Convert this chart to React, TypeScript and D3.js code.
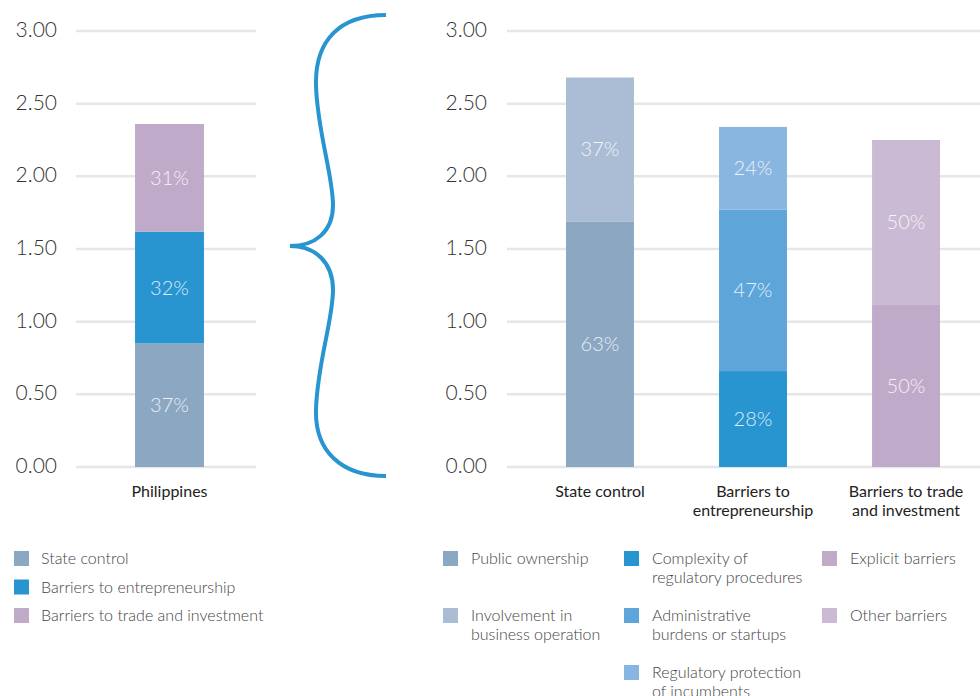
import {cumsum, scaleBand, scaleLinear} from "d3";

const FONT = "Lato, 'Open Sans', sans-serif";

const yTicks = [0, 0.5, 1, 1.5, 2, 2.5, 3];

// overview (Philippines)
const overviewCountry = "Philippines";
const overviewGroups = ["State control", "Barriers to entrepreneurship", "Barriers to trade and investment"];
const overviewValues = [0.85, 0.77, 0.74];
const overviewShares = ["37%", "32%", "31%"];
const overviewColors = ["#8ba7c2", "#2895d1", "#bfaac9"];

// detail by group
const detailCategories = ["State control", "Barriers to entrepreneurship", "Barriers to trade and investment"];
const detailAxisLines = [["State control"], ["Barriers to", "entrepreneurship"], ["Barriers to trade", "and investment"]];
const stateControlValues = [1.69, 0.99];
const stateControlShares = ["63%", "37%"];
const stateControlColors = ["#8ba7c2", "#abbdd4"];
const entrepreneurshipValues = [0.66, 1.11, 0.57];
const entrepreneurshipShares = ["28%", "47%", "24%"];
const entrepreneurshipColors = ["#2895d1", "#5ea6d9", "#89b6e0"];
const tradeValues = [1.12, 1.13];
const tradeShares = ["50%", "50%"];
const tradeColors = ["#bfaac9", "#cbbad3"];

const stateControlLegend = [["Public ownership"], ["Involvement in", "business operation"]];
const entrepreneurshipLegend = [
  ["Complexity of", "regulatory procedures"],
  ["Administrative", "burdens or startups"],
  ["Regulatory protection", "of incumbents"]
];
const tradeLegend = [["Explicit barriers"], ["Other barriers"]];

const WIDTH = 980;
const HEIGHT = 696;

type Segment = {value: number; share: string; color: string};

export default function App() {
  const y = scaleLinear().domain([0, 3]).range([467, 31]);

  const xLeft = scaleBand<string>().domain([overviewCountry]).range([80, 259]).padding(0.444);
  const xRight = scaleBand<string>()
    .domain(detailCategories)
    .range([489.5, 1016.5])
    .paddingInner(0.556)
    .paddingOuter(0.5);

  const overviewSegments: Segment[] = overviewValues.map((value, i) => ({
    value,
    share: overviewShares[i],
    color: overviewColors[i]
  }));

  const detailSegments: Segment[][] = [
    stateControlValues.map((value, i) => ({value, share: stateControlShares[i], color: stateControlColors[i]})),
    entrepreneurshipValues.map((value, i) => ({value, share: entrepreneurshipShares[i], color: entrepreneurshipColors[i]})),
    tradeValues.map((value, i) => ({value, share: tradeShares[i], color: tradeColors[i]}))
  ];

  const legendColumns = [
    {labels: stateControlLegend, colors: stateControlColors, x: 443},
    {labels: entrepreneurshipLegend, colors: entrepreneurshipColors, x: 624},
    {labels: tradeLegend, colors: tradeColors, x: 822}
  ];

  return (
    <div style={{position: "absolute", left: 0, top: 0}}>
      <svg width={WIDTH} height={HEIGHT} viewBox={`0 0 ${WIDTH} ${HEIGHT}`} style={{display: "block", fontFamily: FONT}}>
        <rect width={WIDTH} height={HEIGHT} fill="#ffffff" />

        {/* left axis */}
        {yTicks.map((tick) => (
          <g key={`l-${tick}`}>
            <line x1={76} x2={256} y1={y(tick)} y2={y(tick)} stroke="#e6e6e8" strokeWidth={2.5} />
            <text x={57} y={y(tick) - 1} dy="0.33em" textAnchor="end" fontSize={21} fontWeight={300} fill="#333">
              {tick.toFixed(2)}
            </text>
          </g>
        ))}

        {/* right axis */}
        {yTicks.map((tick) => (
          <g key={`r-${tick}`}>
            <line x1={507} x2={980} y1={y(tick)} y2={y(tick)} stroke="#e6e6e8" strokeWidth={2.5} />
            <text x={487} y={y(tick) - 1} dy="0.33em" textAnchor="end" fontSize={21} fontWeight={300} fill="#333">
              {tick.toFixed(2)}
            </text>
          </g>
        ))}

        <StackedBar segments={overviewSegments} x={xLeft(overviewCountry) ?? 0} width={xLeft.bandwidth()} y={y} />
        <text x={(xLeft(overviewCountry) ?? 0) + xLeft.bandwidth() / 2} y={497} textAnchor="middle" fontSize={16} fill="#222">
          {overviewCountry}
        </text>

        {detailCategories.map((category, i) => (
          <g key={category}>
            <StackedBar segments={detailSegments[i]} x={xRight(category) ?? 0} width={xRight.bandwidth()} y={y} />
            {detailAxisLines[i].map((lineText, j) => (
              <text
                key={lineText}
                x={(xRight(category) ?? 0) + xRight.bandwidth() / 2}
                y={497 + j * 19}
                textAnchor="middle"
                fontSize={16}
                fill="#222"
              >
                {lineText}
              </text>
            ))}
          </g>
        ))}

        {/* brace */}
        <path
          d="M386,15 C340,15 315,40 316,85 C317,130 333,175 333,205 C333,232 315,246 290,246 C315,246 333,262 333,290 C333,320 317,365 316,410 C315,450 340,476 386,476"
          fill="none"
          stroke="#2895d1"
          strokeWidth={4}
        />

        {/* left legend */}
        {overviewGroups.map((label, i) => (
          <g key={label} transform={`translate(14,${551 + i * 28.5})`}>
            <rect width={15} height={15} fill={overviewColors[i]} />
            <text x={27} y={7.5} dy="0.35em" fontSize={16} fontWeight={300} fill="#444">
              {label}
            </text>
          </g>
        ))}

        {/* right legend */}
        {legendColumns.map((column) =>
          column.labels.map((lines, i) => (
            <g key={lines.join(" ")} transform={`translate(${column.x},${551 + i * 57})`}>
              <rect width={15} height={15} fill={column.colors[i]} />
              {lines.map((lineText, j) => (
                <text key={lineText} x={28} y={7.5 + j * 19} dy="0.35em" fontSize={16} fontWeight={300} fill="#444">
                  {lineText}
                </text>
              ))}
            </g>
          ))
        )}
      </svg>
    </div>
  );
}

function StackedBar({
  segments,
  x,
  width,
  y
}: {
  segments: Segment[];
  x: number;
  width: number;
  y: (value: number) => number;
}) {
  const tops = Array.from(cumsum(segments.map((segment) => segment.value)));
  return (
    <g>
      {segments.map((segment, i) => {
        const bottom = i === 0 ? 0 : tops[i - 1];
        const top = tops[i];
        const yTop = y(top);
        const yBottom = y(bottom);
        return (
          <g key={`${segment.color}-${i}`}>
            <rect x={x} y={yTop} width={width} height={yBottom - yTop} fill={segment.color} />
            <text
              x={x + width / 2}
              y={(yTop + yBottom) / 2}
              dy="0.35em"
              textAnchor="middle"
              fontSize={20}
              fontWeight={300}
              fill="#ffffff"
              fillOpacity={0.85}
            >
              {segment.share}
            </text>
          </g>
        );
      })}
    </g>
  );
}
